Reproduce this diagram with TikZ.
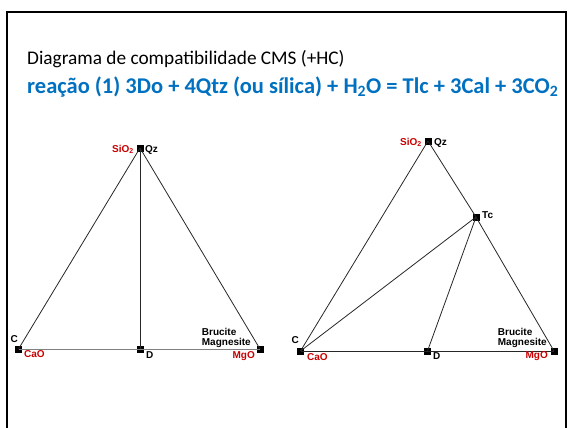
\documentclass[tikz,border=0pt]{standalone}
\usepackage{fontspec}
\setmainfont{Carlito}
\newfontfamily\arialfont{Liberation Sans}
\usetikzlibrary{calc}
\definecolor{titleblue}{RGB}{0,112,192}
\definecolor{oxred}{RGB}{200,0,0}
\tikzset{
  phase/.style  = {fill, rectangle, inner sep=0pt, minimum size=7pt},
  tie/.style    = {line width=0.8pt, black!85},
  lbl/.style    = {font=\arialfont\bfseries\fontsize{10}{10}\selectfont, inner sep=0pt},
  oxide/.style  = {lbl, text=oxred},
  frame/.style  = {line width=2pt},
}
\newcommand{\ptlabel}[5][lbl]{\node[#1,anchor=#3] at ($(#2)+(#4)$) {#5};}

\begin{document}
\begin{tikzpicture}[x=1pt,y=-1pt]
\useasboundingbox (0,0) rectangle (568,428);
\draw[frame] (7,430) -- (7,12) -- (566,12) -- (566,430);
% title
\node[anchor=base west, inner sep=0pt, font=\fontsize{19.3}{19.3}\selectfont] (T1) at (27,65)
  {Diagrama de compatibilidade CMS (+HC)};
\node[anchor=base west, inner sep=0pt, font=\bfseries\fontsize{22.5}{22.5}\selectfont, text=titleblue] (T2) at (27,93)
  {reação (1) 3Do + 4Qtz (ou sílica) + H\textsubscript{2}O = Tlc + 3Cal + 3CO\textsubscript{2}};
% left diagram
\node[phase] (Qz1) at (140,148) {};
\node[phase] (C1) at (18.5,349) {};
\node[phase] (D1) at (140,349) {};
\node[phase] (Mg1) at (260,349) {};
\draw[tie] (C1.center) -- (Qz1.center);
\draw[tie] (Qz1.center) -- (Mg1.center);
\draw[tie] (Qz1.center) -- (D1.center);
\draw[tie, gray] (C1.center) -- (Mg1.center);
\ptlabel[oxide]{Qz1}{base east}{-6,4}{SiO\textsubscript{2}}
\ptlabel{Qz1}{base west}{5,4}{Qz}
\ptlabel{C1}{base east}{-0.5,-7}{C}
\ptlabel[oxide]{C1}{base west}{5.5,8}{CaO}
\ptlabel{D1}{base west}{6,9}{D}
\ptlabel[oxide]{Mg1}{base east}{-5,9}{MgO}
\node[lbl, anchor=base east] (Mag1) at ($(Mg1)+(-9,-4)$) {Magnesite};
\node[lbl, anchor=base west] (Bru1) at ($(Mag1.base west)+(0,-9.5)$) {Brucite};
% right diagram
\node[phase] (Qz2) at (428,141) {};
\node[phase] (C2) at (300.5,351) {};
\node[phase] (D2) at (427.5,351) {};
\node[phase] (Mg2) at (554,351) {};
\node[phase] (Tc) at (476,217) {};
\draw[tie] (C2.center) -- (Qz2.center);
\draw[tie] (Qz2.center) -- (Tc.center);
\draw[tie] (Tc.center) -- (Mg2.center);
\draw[tie] (C2.center) -- (Tc.center);
\draw[tie] (Tc.center) -- (D2.center);
\draw[tie] (C2.center) -- (Mg2.center);
\ptlabel[oxide]{Qz2}{base east}{-6,4}{SiO\textsubscript{2}}
\ptlabel{Qz2}{base west}{6,4}{Qz}
\ptlabel{Tc}{west}{6,-2}{Tc}
\ptlabel{C2}{base east}{-1.5,-8}{C}
\ptlabel[oxide]{C2}{base west}{6.5,9}{CaO}
\ptlabel{D2}{base west}{5.5,8}{D}
\ptlabel[oxide]{Mg2}{base east}{-6,7}{MgO}
\node[lbl, anchor=base east] (Mag2) at ($(Mg2)+(-7,-6)$) {Magnesite};
\node[lbl, anchor=base west] (Bru2) at ($(Mag2.base west)+(0,-9.5)$) {Brucite};
\end{tikzpicture}
\end{document}
